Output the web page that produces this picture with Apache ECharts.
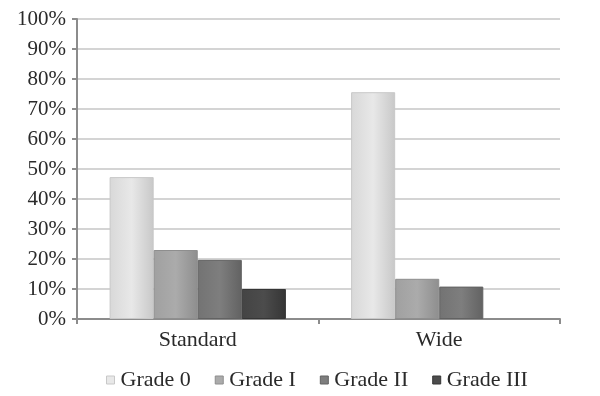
<!DOCTYPE html>
<html><head><meta charset="utf-8">
<script src="https://cdn.jsdelivr.net/npm/echarts@6/dist/echarts.min.js"></script>
<style>html,body{margin:0;padding:0;background:#fff}#c{width:600px;height:396px}</style>
</head><body><div id="c"></div>
<script>
var categories = ['Standard', 'Wide'];
var seriesNames = ['Grade 0', 'Grade I', 'Grade II', 'Grade III'];
var grade0 = [47.3, 75.6];
var grade1 = [23, 13.4];
var grade2 = [19.7, 10.8];
var grade3 = [10, null];
var yTicks = [0, 10, 20, 30, 40, 50, 60, 70, 80, 90, 100];

var fills = [['#d8d8d8', '#e8e8e8', '#c8c8c8'], ['#a0a0a0', '#ababab', '#8e8e8e'], ['#737373', '#7e7e7e', '#626262'], ['#444', '#4c4c4c', '#353535']];
var values = [grade0, grade1, grade2, grade3];
var font = '"Liberation Serif", "Times New Roman", serif';

var chart = echarts.init(document.getElementById('c'));
chart.setOption({
  animation: false,
  backgroundColor: '#fff',
  textStyle: { fontFamily: font },
  grid: { left: 77, right: 40, top: 19, bottom: 77 },
  legend: {
    top: 364, left: 101,
    icon: 'rect',
    itemWidth: 8, itemHeight: 8, itemGap: 24,
    textStyle: { fontFamily: font, fontSize: 22, color: '#2a2a2a', padding: [0, 0, 0, 1] },
    data: seriesNames.map(function (n, i) { return { name: n, itemStyle: { color: fills[i][1], borderColor: fills[i][2], borderWidth: 1 } }; })
  },
  xAxis: {
    type: 'category', data: categories,
    axisLine: { lineStyle: { color: '#8c8c8c', width: 2 } },
    axisTick: { show: true, length: 5, lineStyle: { color: '#8c8c8c', width: 2 } },
    axisLabel: { fontFamily: font, fontSize: 22, color: '#2a2a2a', margin: 10 }
  },
  yAxis: {
    type: 'value', min: 0, max: 100, interval: 10,
    axisLine: { show: true, lineStyle: { color: '#8c8c8c', width: 2 } },
    axisTick: { show: true, length: 5, lineStyle: { color: '#8c8c8c', width: 2 } },
    splitLine: { lineStyle: { color: '#d4d4d4', width: 2 } },
    axisLabel: { fontFamily: font, fontSize: 21, color: '#2a2a2a', margin: 11,
      formatter: function (v) { return yTicks.indexOf(v) >= 0 ? v + '%' : ''; } }
  },
  series: seriesNames.map(function (n, i) {
    return {
      name: n, type: 'bar', data: values[i],
      barGap: '0%', barCategoryGap: '27%',
      itemStyle: {
        color: new echarts.graphic.LinearGradient(0, 0, 1, 0, [
          { offset: 0, color: fills[i][0] }, { offset: 0.5, color: fills[i][1] }, { offset: 1, color: fills[i][2] }
        ]),
        borderColor: fills[i][2], borderWidth: 1
      }
    };
  })
});
</script></body></html>
